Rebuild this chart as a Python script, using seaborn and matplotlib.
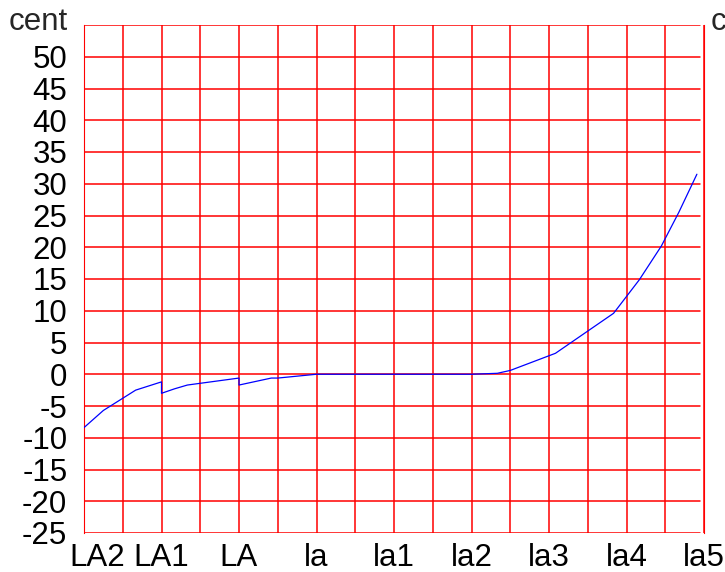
import matplotlib
matplotlib.use("Agg")
import matplotlib.pyplot as plt
import matplotlib.transforms as mtrans
import seaborn as sns
import pandas as pd

# x in semitones from LA2 (A0); cents deviation
semitones = [0, 3, 8, 12, 12, 14, 16, 24, 24, 29, 30, 36, 48, 60, 64, 66, 73, 77, 82, 86, 89.4, 92.1, 94.9]
cents = [-8.4, -5.7, -2.5, -1.2, -3.0, -2.3, -1.7, -0.6, -1.7, -0.6, -0.6, 0.0, 0.0, 0.0, 0.15, 0.6, 3.3, 6.1, 9.6, 14.9, 20.2, 25.5, 31.5]

x_tick_pos = [0, 12, 24, 36, 48, 60, 72, 84, 96]
x_tick_labels = ["LA2", "LA1", "LA", "la", "la1", "la2", "la3", "la4", "la5"]
y_ticks = [50, 45, 40, 35, 30, 25, 20, 15, 10, 5, 0, -5, -10, -15, -20, -25]

sns.set_style("white")
plt.rcParams['font.family'] = ['Liberation Sans', 'DejaVu Sans']

df = pd.DataFrame({"x": semitones, "y": cents})

fig = plt.figure(figsize=(7.25, 5.72), dpi=100)
ax = fig.add_axes([84/725, 1 - 533/572, (704 - 84)/725, (533 - 25)/572])

# grid
for gx in range(0, 97, 6):
    ax.axvline(gx, color="#ff0000", lw=1.1, zorder=1)
for gy in range(-25, 56, 5):
    ax.axhline(gy, color="#ff0000", lw=1.1, zorder=1, xmax=0.993)

sns.lineplot(data=df, x="x", y="y", sort=False, estimator=None, color="#0000ff", lw=0.9, ax=ax, zorder=3)

ax.set_xlim(0, 96)
ax.set_ylim(-25, 55)
ax.set_xticks(x_tick_pos)
ax.set_xticklabels(x_tick_labels)
ax.set_yticks(y_ticks)
ax.set_yticklabels([str(v) for v in y_ticks])
ax.tick_params(axis="both", length=0, labelsize=22.5, colors="black")
ax.tick_params(axis="y", pad=12)
ax.tick_params(axis="x", pad=7)
ax.set_xlabel("")
ax.set_ylabel("")
for s in ax.spines.values():
    s.set_visible(False)
ax.spines["left"].set_visible(True)
ax.spines["left"].set_color("#ff0000")
ax.spines["right"].set_visible(True)
ax.spines["right"].set_color("#ff0000")

lbls = ax.get_xticklabels()
lbls[0].set_transform(lbls[0].get_transform() + mtrans.ScaledTranslation(13/100, 0, fig.dpi_scale_trans))

fig.text(9/725, 1 - 22/572, "cent", fontsize=22.5, ha="left", va="center")
fig.text(711/725, 1 - 22/572, "cent", fontsize=22.5, ha="left", va="center")

fig.savefig("out.png", dpi=100)
